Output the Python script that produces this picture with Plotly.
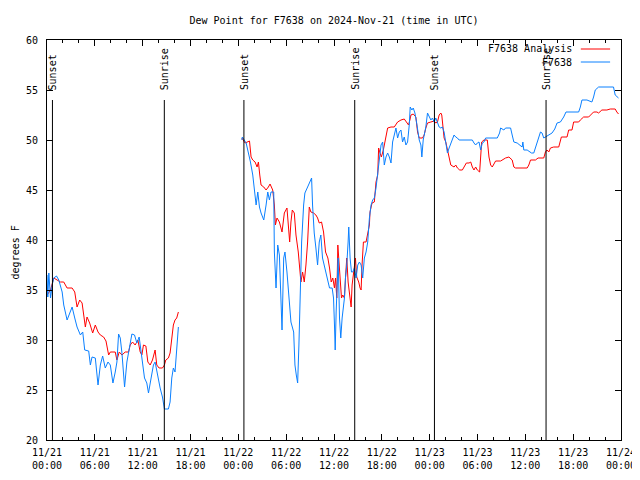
import pandas as pd
import plotly.graph_objects as go

TITLE = "Dew Point for F7638 on 2024-Nov-21 (time in UTC)"
START = pd.Timestamp("2024-11-21 00:00")
END = pd.Timestamp("2024-11-24 00:00")

# Observed F7638 (blue): hours since 2024-11-21 00:00 UTC, dew point degF
obs_day1_hours = [0.0, 0.1, 0.23, 0.44, 0.65, 0.85, 1.19, 1.48, 1.9, 2.1, 2.52, 2.81, 3.15, 3.48,
                  3.77, 4.19, 4.48, 4.73, 5.23, 5.44, 5.65, 6.06, 6.4, 6.69, 6.98, 7.31, 7.65, 7.94,
                  8.27, 8.56, 8.77, 8.98, 9.19, 9.4, 9.73, 10.02, 10.31, 10.65, 10.98, 11.27, 11.56,
                  11.9, 12.23, 12.52, 12.73, 13.06, 13.35, 13.56, 13.9, 14.19, 14.48, 14.73, 15.23,
                  15.44, 15.65, 15.85, 16.06, 16.27, 16.48]
obs_day1_vals = [36.5, 34.3, 36.7, 34.2, 35.5, 36.2, 36.4, 36.0, 34.8, 33.5, 32.0, 32.7, 33.3, 32.2,
                 31.3, 30.5, 30.8, 29.0, 28.9, 27.5, 28.3, 28.2, 25.5, 27.5, 28.4, 27.2, 27.8, 27.5,
                 25.7, 26.8, 27.8, 30.6, 30.2, 28.7, 25.3, 27.8, 29.2, 30.6, 30.5, 29.7, 30.3,
                 28.2, 26.2, 25.7, 24.7, 26.2, 27.5, 27.8, 26.3, 25.2, 24.3, 23.1, 23.1,
                 23.8, 26.2, 27.2, 26.8, 29.5, 31.3]
obs_day2_hours = [24.44, 24.5, 24.98, 25.27, 25.52, 25.81, 26.02, 26.23, 26.44, 26.65, 26.85, 27.19,
                  27.48, 27.69, 27.9, 28.1, 28.44, 28.52, 28.73, 28.94, 29.15, 29.35, 29.48, 29.69,
                  29.85, 30.1, 30.4, 30.6, 30.94, 31.1, 31.27, 31.44, 31.6, 31.77, 31.94, 32.19,
                  32.35, 32.69, 33.19, 33.31, 33.52, 33.73, 33.94, 34.15, 34.35, 34.56, 34.85,
                  35.02, 35.23, 35.44, 35.77, 35.94, 36.06, 36.15, 36.27, 36.4, 36.52, 36.69, 36.85,
                  37.02, 37.19, 37.31, 37.44, 37.6, 37.77, 37.85, 38.02, 38.19, 38.35, 38.56, 38.77,
                  38.98, 39.19, 39.4, 39.6, 39.81, 40.02, 40.23, 40.44, 40.65, 40.85, 41.06, 41.27,
                  41.48, 41.69, 41.9, 42.1, 42.31, 42.52, 42.73, 42.94, 43.15, 43.35, 43.56, 43.77,
                  43.98, 44.19, 44.4, 44.6, 44.81, 45.02, 45.23, 45.44, 45.56, 45.77, 45.94, 46.15,
                  46.35, 46.52, 46.69, 46.9, 47.02, 47.19, 47.35, 47.52, 47.73, 47.94, 48.15, 48.35,
                  48.56, 48.77, 48.98, 49.19, 49.4, 49.6, 49.81, 50.02, 50.23, 50.44, 50.65, 50.85,
                  51.06, 51.27, 51.48, 51.69, 52.52, 53.35, 53.56, 53.77, 53.98, 54.19, 54.4, 54.6,
                  54.81, 55.02, 56.48, 56.77, 56.9, 57.31, 57.52, 58.15, 58.35, 58.56, 58.98, 59.6,
                  59.69, 59.81, 60.23, 60.77, 61.06, 61.27, 61.69, 61.9, 62.1, 62.31, 62.52, 62.94,
                  63.35, 63.69, 63.98, 64.4, 64.81, 65.1, 66.69, 66.9, 67.1, 67.73, 68.15, 68.35,
                  68.56, 68.77, 69.19, 71.06, 71.27, 71.69]
obs_day2_vals = [50.0, 50.3, 49.7, 48.8, 47.8, 46.5, 45.0, 43.5, 44.8, 43.3, 42.7, 42.0,
                 43.5, 44.8, 44.0, 44.8, 44.8, 38.8, 35.2, 39.5, 38.5, 33.0, 31.0, 38.2,
                 38.8, 36.8, 34.2, 31.8, 30.8, 27.5, 26.5, 25.7, 29.5, 34.8, 39.8, 43.5,
                 44.7, 45.3, 46.2, 43.5, 40.7, 39.2, 37.5, 39.8, 40.5, 38.2, 37.2,
                 36.8, 36.2, 35.2, 35.2, 34.2, 31.5, 29.0, 32.8, 36.2, 38.2, 32.2, 30.2,
                 32.2, 33.2, 34.2, 36.2, 37.5, 39.8, 41.3, 38.2, 36.8, 36.8, 37.2, 36.2,
                 37.5, 37.8, 37.5, 36.2, 38.2, 38.8, 39.8, 42.2, 43.5, 44.0, 44.2, 45.2,
                 46.5, 48.2, 49.5, 49.8, 47.5, 48.3, 48.7, 48.3, 47.7, 49.8, 50.7, 51.2,
                 50.2, 50.8, 51.0, 49.8, 50.3, 49.5, 49.8, 51.5, 53.3, 53.0, 53.2, 52.7,
                 51.8, 50.8, 50.0, 49.5, 48.3, 50.0, 50.7, 51.3, 52.7, 52.3, 52.0, 52.2,
                 51.8, 52.2, 51.8, 51.3, 51.2, 51.3, 50.8, 49.8, 48.7, 49.2, 49.7, 50.0,
                 50.5, 50.3, 50.2, 50.0, 50.0, 50.0, 49.7, 49.5, 49.7, 49.8, 49.0, 49.7,
                 49.8, 50.2, 50.2, 50.7, 51.2, 51.0, 51.2, 51.2, 50.5, 49.8, 49.7, 49.3,
                 49.8, 49.0, 49.0, 48.7, 48.7, 49.2, 50.2, 50.8, 50.7, 50.2, 50.3, 50.5,
                 50.7, 51.1, 51.7, 51.8, 52.3, 52.8, 52.8, 53.3, 54.0, 54.0, 53.9, 53.8,
                 54.3, 55.0, 55.3, 55.3, 54.5, 54.2]

# F7638 Analysis (red)
ana_day1_hours = [0.02, 0.44, 0.85, 1.27, 1.69, 2.1, 2.52, 3.15, 3.48, 3.77, 4.1, 4.4, 4.6, 4.81,
                  5.02, 5.35, 5.73, 6.06, 6.4, 6.69, 7.1, 7.4, 7.73, 7.94, 8.56, 8.77, 9.06, 9.4,
                  9.81, 10.23, 10.44, 10.73, 11.06, 11.4, 11.69, 11.9, 12.1, 12.4, 12.65, 12.94,
                  13.23, 13.56, 13.77, 14.06, 14.48, 14.73, 14.9, 15.23, 15.44, 15.65, 15.85,
                  16.06, 16.27, 16.48]
ana_day1_vals = [34.5, 35.0, 36.2, 36.0, 35.8, 35.8, 35.2, 35.2, 34.8, 33.3, 34.0, 33.7, 32.5, 31.3,
                 32.3, 31.7, 30.7, 31.5, 30.8, 30.5, 30.3, 29.9, 28.5, 28.8, 28.8, 28.0, 28.8, 28.5,
                 28.8, 28.8, 29.5, 29.8, 29.5, 30.0, 28.8, 28.5, 29.5, 29.4, 27.8, 27.5,
                 28.0, 29.0, 27.5, 27.2, 27.2, 27.5, 28.0, 28.2, 28.7, 30.2, 31.5,
                 32.0, 32.2, 32.8]
ana_day2_hours = [24.44, 24.69, 24.85, 25.4, 25.6, 25.81, 26.1, 26.35, 26.52, 26.69, 26.85, 27.19,
                  27.48, 27.77, 27.98, 28.31, 28.52, 28.65, 28.85, 29.15, 29.35, 29.48, 29.77, 30.1,
                  30.27, 30.44, 30.6, 30.77, 31.02, 31.23, 31.52, 31.69, 31.85, 32.06, 32.27, 32.48,
                  32.69, 32.9, 33.1, 33.44, 33.73, 33.94, 34.15, 34.44, 34.69, 34.94, 35.23, 35.44,
                  35.65, 35.85, 36.06, 36.19, 36.35, 36.48, 36.6, 36.77, 36.94, 37.1, 37.31, 37.44,
                  37.6, 37.77, 37.94, 38.15, 38.27, 38.48, 38.69, 38.85, 39.1, 39.27, 39.4, 39.52,
                  39.69, 40.02, 40.23, 40.44, 40.52, 40.77, 41.06, 41.27, 41.48, 41.6, 41.77, 41.94,
                  42.19, 42.44, 42.73, 43.15, 43.56, 43.98, 44.4, 44.81, 45.1, 45.35, 45.52, 45.65,
                  45.94, 46.27, 46.48, 46.69, 47.1, 47.31, 47.52, 47.73, 48.15, 48.56, 48.77, 48.98,
                  49.19, 49.4, 49.52, 49.69, 49.81, 50.02, 50.15, 50.35, 50.44, 50.65, 51.06, 51.27,
                  51.48, 51.77, 52.1, 52.31, 52.6, 52.94, 53.15, 53.35, 53.56, 53.77, 53.98, 54.27,
                  54.4, 54.52, 54.81, 55.23, 55.44, 55.65, 55.85, 56.27, 56.9, 57.52, 57.94, 58.35,
                  58.56, 58.77, 60.23, 60.44, 60.65, 61.27, 61.6, 62.31, 62.52, 62.73, 62.94, 63.15,
                  63.56, 64.19, 64.52, 65.23, 65.44, 65.85, 66.06, 66.69, 66.9, 67.31, 67.94, 68.56,
                  68.98, 69.19, 69.6, 70.23, 70.65, 71.27, 71.48, 71.69]
ana_day2_vals = [50.2, 49.8, 49.7, 49.9, 48.3, 48.0, 47.8, 47.3, 47.8, 46.5, 45.5, 45.3,
                 45.0, 45.3, 45.6, 45.0, 43.5, 41.5, 42.2, 41.8, 41.2, 40.8, 42.7, 43.2,
                 41.5, 39.8, 41.8, 43.0, 42.7, 40.5, 38.8, 37.2, 35.8, 36.8, 35.8, 37.5,
                 39.8, 43.3, 42.8, 42.7, 42.5, 42.2, 41.7, 41.8, 40.8, 38.8, 38.2, 37.2,
                 35.8, 36.2, 35.2, 36.2, 34.2, 39.5, 38.2, 35.8, 34.2, 34.5, 34.2, 36.2,
                 38.2, 35.8, 34.8, 33.3, 35.5, 37.0, 38.2, 36.3, 35.8, 35.2, 35.0, 37.5,
                 39.8, 39.8, 40.5, 41.5, 42.8, 43.7, 43.8, 45.8, 46.5, 49.2, 48.7, 48.3,
                 49.0, 50.2, 51.2, 51.3, 51.3, 51.8, 52.0, 52.1, 51.8, 51.5, 52.0, 52.5,
                 52.6, 52.3, 50.8, 50.2, 50.2, 50.5, 51.2, 51.7, 51.8, 51.9, 51.7, 51.8,
                 52.5, 52.7, 52.5, 51.2, 50.2, 49.8, 49.3, 48.7, 48.2, 47.5, 47.3, 47.5,
                 47.2, 47.0, 47.0, 47.3, 47.7, 47.7, 47.8, 47.3, 47.0, 47.3, 47.0, 46.8,
                 48.8, 49.8, 50.0, 50.0, 48.3, 47.5, 47.3, 47.9, 47.9, 48.2, 48.3, 48.0,
                 47.3, 47.2, 47.2, 47.5, 48.0, 48.0, 48.2, 48.2, 48.8, 49.0, 48.8, 49.2,
                 49.3, 49.3, 50.3, 50.3, 51.0, 51.0, 51.8, 51.8, 52.0, 52.3, 52.3, 52.8,
                 52.8, 52.7, 53.0, 53.0, 53.1, 53.1, 52.8, 52.6]

sun_times = ["2024-11-21 00:41", "2024-11-21 14:43", "2024-11-22 00:42",
             "2024-11-22 14:36", "2024-11-23 00:36", "2024-11-23 14:36"]
sun_labels = ["Sunset", "Sunrise", "Sunset", "Sunrise", "Sunset", "Sunrise"]

y_ticks = [20, 25, 30, 35, 40, 45, 50, 55, 60]

FONT = "DejaVu Sans Mono"
RED = "#ff0000"
BLUE = "#0a80ff"

W, H = 640, 480
# the page adds an 8px body margin; offsets compensate so the plot box lands at 47..621 x 40..440
ML, MT, MR, MB = 39, 32, 27, 48


def join(h1, v1, h2, v2):
    hours = h1 + [(h1[-1] + h2[0]) / 2] + h2
    vals = v1 + [None] + v2
    times = [START + pd.Timedelta(hours=h) for h in hours]
    return times, vals


ana_t, ana_v = join(ana_day1_hours, ana_day1_vals, ana_day2_hours, ana_day2_vals)
obs_t, obs_v = join(obs_day1_hours, obs_day1_vals, obs_day2_hours, obs_day2_vals)

fig = go.Figure()
fig.add_trace(go.Scatter(x=ana_t, y=ana_v, mode="lines", name="F7638 Analysis",
                         line=dict(color=RED, width=1), connectgaps=False, showlegend=False))
fig.add_trace(go.Scatter(x=obs_t, y=obs_v, mode="lines", name="F7638",
                         line=dict(color=BLUE, width=1), connectgaps=False, showlegend=False))

for t, lab in zip(sun_times, sun_labels):
    fig.add_shape(type="line", xref="x", yref="y", x0=t, x1=t, y0=20, y1=54.0,
                  line=dict(color="black", width=1))
    fig.add_annotation(x=t, y=54.8, xref="x", yref="y", text=lab, textangle=-90,
                       showarrow=False, xanchor="center", yanchor="bottom",
                       font=dict(family=FONT, size=10, color="black"))

# legend (text then line sample, as in the reference)
legend_items = [("F7638 Analysis", RED, 0.9775), ("F7638", BLUE, 0.945)]
for name, col, yp in legend_items:
    fig.add_annotation(x=0.918, y=yp, xref="paper", yref="paper", text=name,
                       showarrow=False, xanchor="right", yanchor="middle",
                       font=dict(family=FONT, size=10, color="black"))
    fig.add_shape(type="line", xref="paper", yref="paper", x0=0.930, x1=0.981,
                  y0=yp, y1=yp, line=dict(color=col, width=1))

fig.add_annotation(x=-0.055, y=0.47, xref="paper", yref="paper", text="degrees F",
                   textangle=-90, showarrow=False, xanchor="center", yanchor="middle",
                   font=dict(family=FONT, size=10, color="black"))

fig.update_layout(
    width=W, height=H,
    margin=dict(l=ML, r=MR, t=MT, b=MB, autoexpand=False),
    paper_bgcolor="white", plot_bgcolor="white",
    font=dict(family=FONT, size=10, color="black"),
    title=dict(text=TITLE, x=0.5, xref="paper", xanchor="center",
               y=1 - 12 / H, yanchor="middle",
               font=dict(family=FONT, size=10, color="black")),
    showlegend=False,
)
fig.update_xaxes(
    type="date", range=[START, END], dtick=6 * 3600 * 1000, tick0=START,
    tickformat="%m/%d<br>%H:%M", ticks="inside", ticklen=6, tickcolor="black",
    showline=True, linecolor="black", linewidth=1, mirror="ticks",
    showgrid=False, zeroline=False, automargin=False, ticklabelstandoff=3,
    minor=dict(ticks="inside", dtick=2 * 3600 * 1000, ticklen=3, tickcolor="black", showgrid=False),
    tickfont=dict(family=FONT, size=10, color="black"),
)
fig.update_yaxes(
    range=[20, 60], tickvals=y_ticks, ticks="inside", ticklen=6, tickcolor="black",
    showline=True, linecolor="black", linewidth=1, mirror="ticks",
    showgrid=False, zeroline=False, automargin=False,
    tickfont=dict(family=FONT, size=10, color="black"), ticklabelstandoff=6,
)

fig.write_html("out.html")
